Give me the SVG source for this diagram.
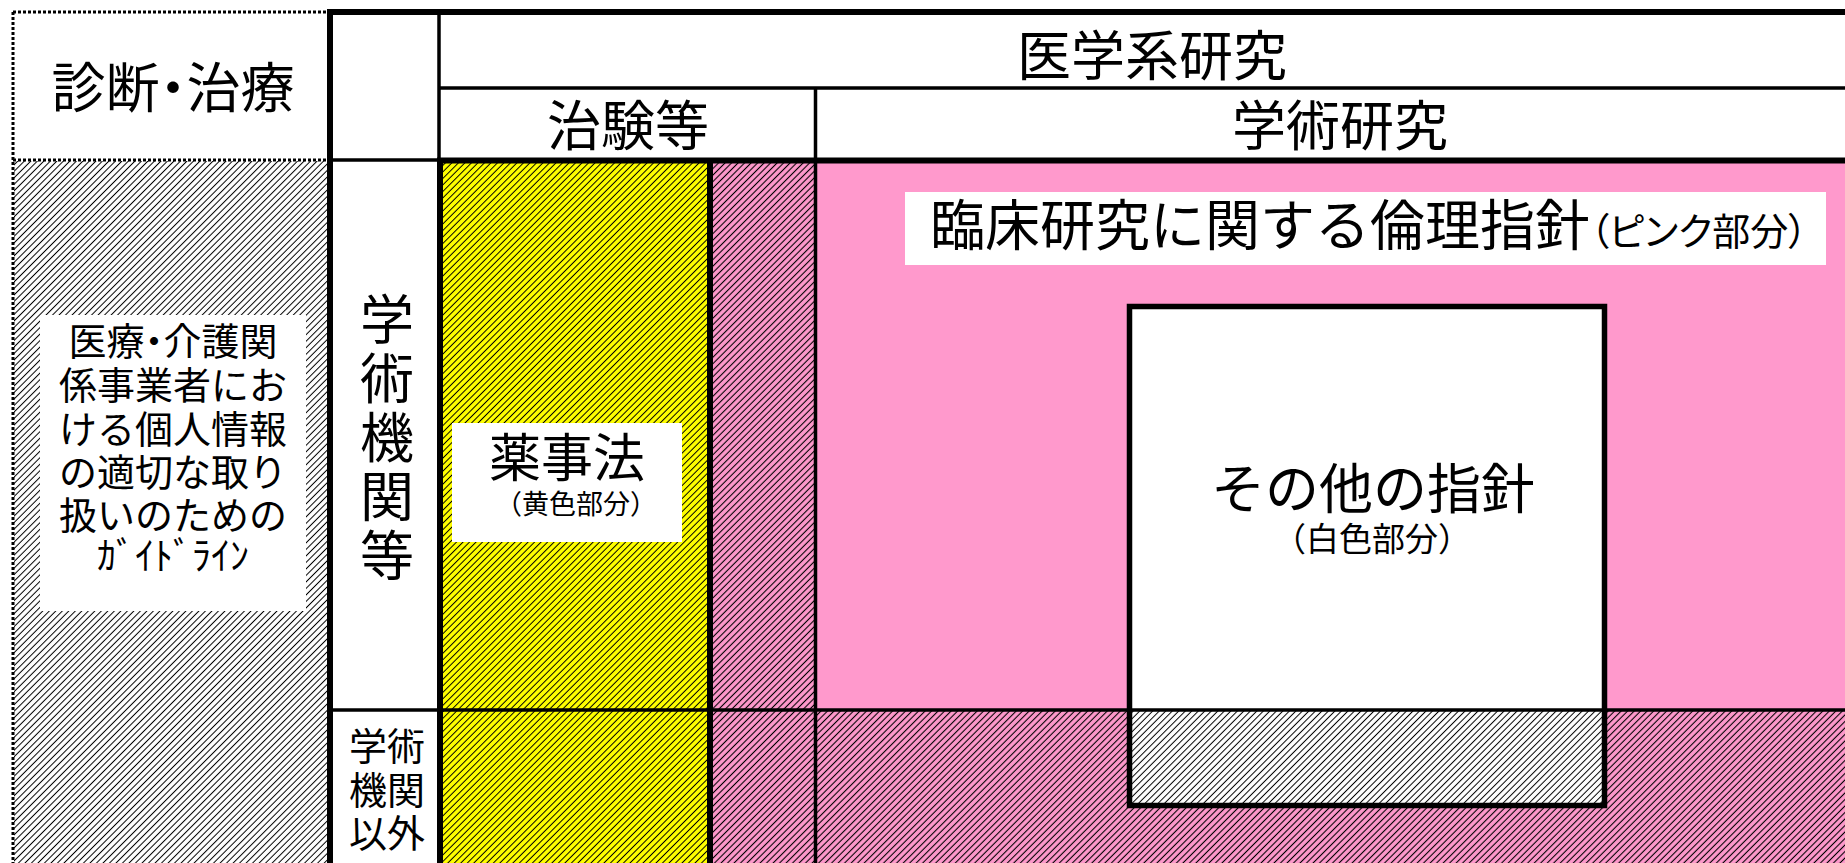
<svg xmlns="http://www.w3.org/2000/svg" width="1845" height="863" viewBox="0 0 1845 863">
<style>
text{font-family:"Noto Sans CJK JP","Noto Sans CJK SC",sans-serif;fill:#000;dominant-baseline:central;text-anchor:middle;}
.p{font-feature-settings:"palt";}
.big{font-size:54px;}
.mid{font-size:38px;}
.thin{stroke:#000;stroke-width:3.5;fill:none;}
.thick{stroke:#000;stroke-width:6;fill:none;}
.dot{stroke:#000;stroke-width:3;stroke-dasharray:3 2;fill:none;}
</style>
<defs>
<pattern id="hGray" width="4.6" height="4.6" patternUnits="userSpaceOnUse" patternTransform="rotate(45)">
<rect width="4.6" height="4.6" fill="#fff"/><line x1="2.3" y1="0" x2="2.3" y2="4.6" stroke="#000" stroke-width="1"/>
</pattern>
<pattern id="hPink" width="4.6" height="4.6" patternUnits="userSpaceOnUse" patternTransform="rotate(45)">
<rect width="4.6" height="4.6" fill="#FF99CC"/><line x1="2.3" y1="0" x2="2.3" y2="4.6" stroke="#000" stroke-width="1.1"/>
</pattern>
<pattern id="hYellow" width="4.6" height="4.6" patternUnits="userSpaceOnUse" patternTransform="rotate(45)">
<rect width="4.6" height="4.6" fill="#FFFF00"/><line x1="2.3" y1="0" x2="2.3" y2="4.6" stroke="#000" stroke-width="1"/>
</pattern>
</defs>
<rect width="1845" height="863" fill="#fff"/>

<g id="diagnosis-header">
<text class="big p" x="173" y="84">診断・治療</text>
</g>

<g id="guideline-area">
<rect x="14" y="161" width="315" height="702" fill="url(#hGray)"/>
<rect x="40" y="315" width="266" height="296" fill="#fff"/>
<text class="mid"><tspan class="p" x="173" y="338">医療・介護関</tspan><tspan x="173" y="382">係事業者にお</tspan><tspan x="173" y="426">ける個人情報</tspan><tspan x="173" y="469">の適切な取り</tspan><tspan x="173" y="512">扱いのための</tspan><tspan x="173" y="552">ｶﾞｲﾄﾞﾗｲﾝ</tspan></text>
</g>

<g id="yellow-column">
<rect x="440" y="160" width="270" height="703" fill="url(#hYellow)"/>
</g>

<g id="pink-hatched-column">
<rect x="710" y="160" width="105" height="703" fill="url(#hPink)"/>
</g>

<g id="pink-area">
<rect x="815" y="160" width="1030" height="550" fill="#FF99CC"/>
<rect x="815" y="710" width="1030" height="153" fill="url(#hPink)"/>
</g>

<g id="other-guidelines">
<rect x="1129.5" y="306.5" width="475" height="403.5" fill="#fff"/>
<rect x="1129.5" y="710" width="475" height="95.5" fill="url(#hGray)"/>
<text class="big" x="1373" y="485">その他の指針</text>
<text x="1372" y="537" style="font-size:33px">（白色部分）</text>
</g>

<g id="yakuji-label">
<rect x="452" y="423" width="230" height="119" fill="#fff"/>
<text class="big" x="567" y="454" style="font-size:52px">薬事法</text>
<text x="576" y="502" style="font-size:27px">（黄色部分）</text>
</g>

<g id="rinsho-label">
<rect x="905" y="192" width="921" height="73" fill="#fff"/>
<text x="930" y="245" style="text-anchor:start;font-size:55px;dominant-baseline:alphabetic">臨床研究に関する倫理指針<tspan class="p" style="font-size:38px">（ピンク部分）</tspan></text>
</g>

<g id="header-medical">
<text class="big" x="1152" y="52">医学系研究</text>
</g>
<g id="header-chiken">
<text class="big" x="628" y="122">治験等</text>
</g>
<g id="header-academic">
<text class="big" x="1340" y="122">学術研究</text>
</g>

<g id="academic-institutions">
<text class="big"><tspan x="387" y="316">学</tspan><tspan x="387" y="375">術</tspan><tspan x="387" y="434">機</tspan><tspan x="387" y="493">関</tspan><tspan x="387" y="552">等</tspan></text>
</g>
<g id="non-academic">
<text class="mid"><tspan x="387" y="743">学術</tspan><tspan x="387" y="787">機関</tspan><tspan x="387" y="830">以外</tspan></text>
</g>

<g id="connectors">
<line class="dot" x1="13" y1="12" x2="330" y2="12"/>
<line class="dot" x1="13" y1="12" x2="13" y2="863"/>
<line class="dot" x1="13" y1="160" x2="330" y2="160"/>
<line class="thick" x1="327" y1="12" x2="1845" y2="12"/>
<line class="thick" x1="330" y1="9" x2="330" y2="863"/>
<line class="thin" x1="439" y1="12" x2="439" y2="160"/>
<line class="thin" x1="439" y1="88" x2="1845" y2="88"/>
<line class="thin" x1="815.5" y1="88" x2="815.5" y2="863"/>
<line class="thin" x1="330" y1="160" x2="439" y2="160"/>
<line class="thick" x1="437" y1="160.5" x2="1845" y2="160.5"/>
<line class="thick" x1="440" y1="158" x2="440" y2="863"/>
<line class="thick" x1="710" y1="158" x2="710" y2="863"/>
<line class="thin" x1="330" y1="710" x2="1845" y2="710"/>
<rect class="thick" x="1129.5" y="306.5" width="475" height="499" style="stroke-width:5.5"/>
</g>
</svg>
